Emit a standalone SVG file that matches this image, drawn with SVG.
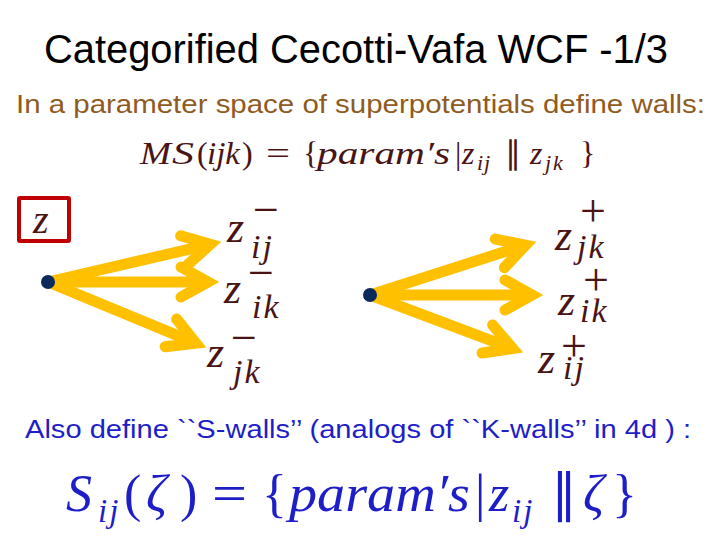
<svg xmlns="http://www.w3.org/2000/svg" width="720" height="540" viewBox="0 0 720 540">
<style>
.title{font-family:"Liberation Sans",Arial,sans-serif;font-size:40px;fill:#000}
.sub{font-family:"Liberation Sans",Arial,sans-serif;font-size:25px}
.m{font-family:"Liberation Serif","Times New Roman",serif;fill:#4a1414}
.mb{font-family:"Liberation Serif","Times New Roman",serif;fill:#1e1ec8}
.i{font-style:italic}
.zz{font-size:44px}
.sb{font-size:34px;letter-spacing:2px}
.sp{font-size:46px;font-style:normal}
.shaft{stroke:#FFC000;stroke-width:11;fill:none}
.dot{fill:#0b2a5c}
</style>
<defs>
<marker id="ah" markerUnits="userSpaceOnUse" viewBox="-40 -30 60 60" markerWidth="60" markerHeight="60" refX="0" refY="0" orient="auto" overflow="visible">
<path d="M-27,-15 L0,0 L-27,15" fill="none" stroke="#FFC000" stroke-width="11" stroke-linejoin="miter" stroke-miterlimit="10" stroke-linecap="round"/>
</marker>
</defs>
<rect width="720" height="540" fill="#fff"/>
<g id="title"><text class="title" x="44" y="63" textLength="624" lengthAdjust="spacingAndGlyphs">Categorified Cecotti-Vafa WCF -1/3</text></g>
<g id="subtitle"><text class="sub" x="16" y="113" fill="#8f5b1f" textLength="689" lengthAdjust="spacingAndGlyphs">In a parameter space of superpotentials define walls:</text></g>
<g id="ms-formula" font-size="32">
<text class="m i" x="140" y="164" textLength="31" lengthAdjust="spacingAndGlyphs">M</text>
<text class="m i" x="172" y="164" textLength="22" lengthAdjust="spacingAndGlyphs">S</text>
<text class="m" x="197" y="164">(</text>
<text class="m i" x="207" y="164" textLength="33" lengthAdjust="spacingAndGlyphs">ijk</text>
<text class="m" x="242" y="164">)</text>
<text class="m" x="266" y="164" textLength="24" lengthAdjust="spacingAndGlyphs">=</text>
<text class="m" x="303" y="164">{</text>
<text class="m i" x="317" y="164" textLength="133" lengthAdjust="spacingAndGlyphs">param′s</text>
<text class="m" x="455" y="164">|</text>
<text class="m i" x="462" y="164">z<tspan x="477" y="170" font-size="22" letter-spacing="1">ij</tspan></text>
<text class="m" x="505" y="164">∥</text>
<text class="m i" x="530" y="164">z<tspan x="545" y="170" font-size="22" letter-spacing="2">jk</tspan></text>
<text class="m" x="580" y="164">}</text>
</g>
<g id="zbox">
<rect x="19" y="198" width="50" height="43" fill="none" stroke="#c00000" stroke-width="4" rx="1"/>
<text class="m i" x="33" y="233" font-size="40">z</text>
</g>
<g id="connectors">
<line class="shaft" x1="48" y1="282" x2="210.3" y2="244.3" marker-end="url(#ah)"/>
<line class="shaft" x1="48" y1="282" x2="208" y2="282" marker-end="url(#ah)"/>
<line class="shaft" x1="48" y1="282" x2="195.8" y2="343.2" marker-end="url(#ah)"/>
<line class="shaft" x1="370" y1="295" x2="525.5" y2="245.1" marker-end="url(#ah)"/>
<line class="shaft" x1="370" y1="295" x2="532" y2="295" marker-end="url(#ah)"/>
<line class="shaft" x1="370" y1="295" x2="512.6" y2="348.5" marker-end="url(#ah)"/>
</g>
<g id="dot-left"><circle class="dot" cx="48" cy="282" r="7"/></g>
<g id="dot-right"><circle class="dot" cx="370" cy="295" r="7"/></g>
<g id="z-ij-minus"><text class="m i"><tspan class="zz" x="227" y="242">z</tspan><tspan class="sb" x="251" y="258">ij</tspan><tspan class="sp" x="253" y="225">−</tspan></text></g>
<g id="z-ik-minus"><text class="m i"><tspan class="zz" x="224" y="303">z</tspan><tspan class="sb" x="252" y="318">ik</tspan><tspan class="sp" x="248" y="288">−</tspan></text></g>
<g id="z-jk-minus"><text class="m i"><tspan class="zz" x="207" y="367">z</tspan><tspan class="sb" x="233" y="383">jk</tspan><tspan class="sp" x="231" y="353">−</tspan></text></g>
<g id="z-jk-plus"><text class="m i"><tspan class="zz" x="555" y="250">z</tspan><tspan class="sb" x="577" y="258" letter-spacing="4">jk</tspan><tspan class="sp" x="580" y="226">+</tspan></text></g>
<g id="z-ik-plus"><text class="m i"><tspan class="zz" x="558" y="315">z</tspan><tspan class="sb" x="580" y="322" letter-spacing="4">ik</tspan><tspan class="sp" x="583" y="295">+</tspan></text></g>
<g id="z-ij-plus"><text class="m i"><tspan class="zz" x="538" y="373">z</tspan><tspan class="sb" x="563" y="379">ij</tspan><tspan class="sp" x="561" y="361">+</tspan></text></g>
<g id="swalls-text"><text class="sub" x="25" y="438" fill="#1e1ec8" textLength="666" lengthAdjust="spacingAndGlyphs">Also define ``S-walls’’ (analogs of ``K-walls’’ in 4d ) :</text></g>
<g id="s-formula" font-size="52">
<text class="mb i" x="66" y="511">S<tspan x="98" y="522" font-size="33" letter-spacing="2">ij</tspan></text>
<text class="mb" x="124" y="511">(</text>
<text class="mb i" x="146" y="511">ζ</text>
<text class="mb" x="180" y="511">)</text>
<text class="mb" x="212" y="511" textLength="35" lengthAdjust="spacingAndGlyphs">=</text>
<text class="mb" x="262" y="511">{</text>
<text class="mb i" x="289" y="511" textLength="181" lengthAdjust="spacingAndGlyphs">param′s</text>
<text class="mb" x="475" y="511">|</text>
<text class="mb i" x="489" y="511">z<tspan x="512" y="522" font-size="33" letter-spacing="2">ij</tspan></text>
<text class="mb" x="551" y="511">∥</text>
<text class="mb i" x="583" y="511">ζ</text>
<text class="mb" x="612" y="511">}</text>
</g>
</svg>
